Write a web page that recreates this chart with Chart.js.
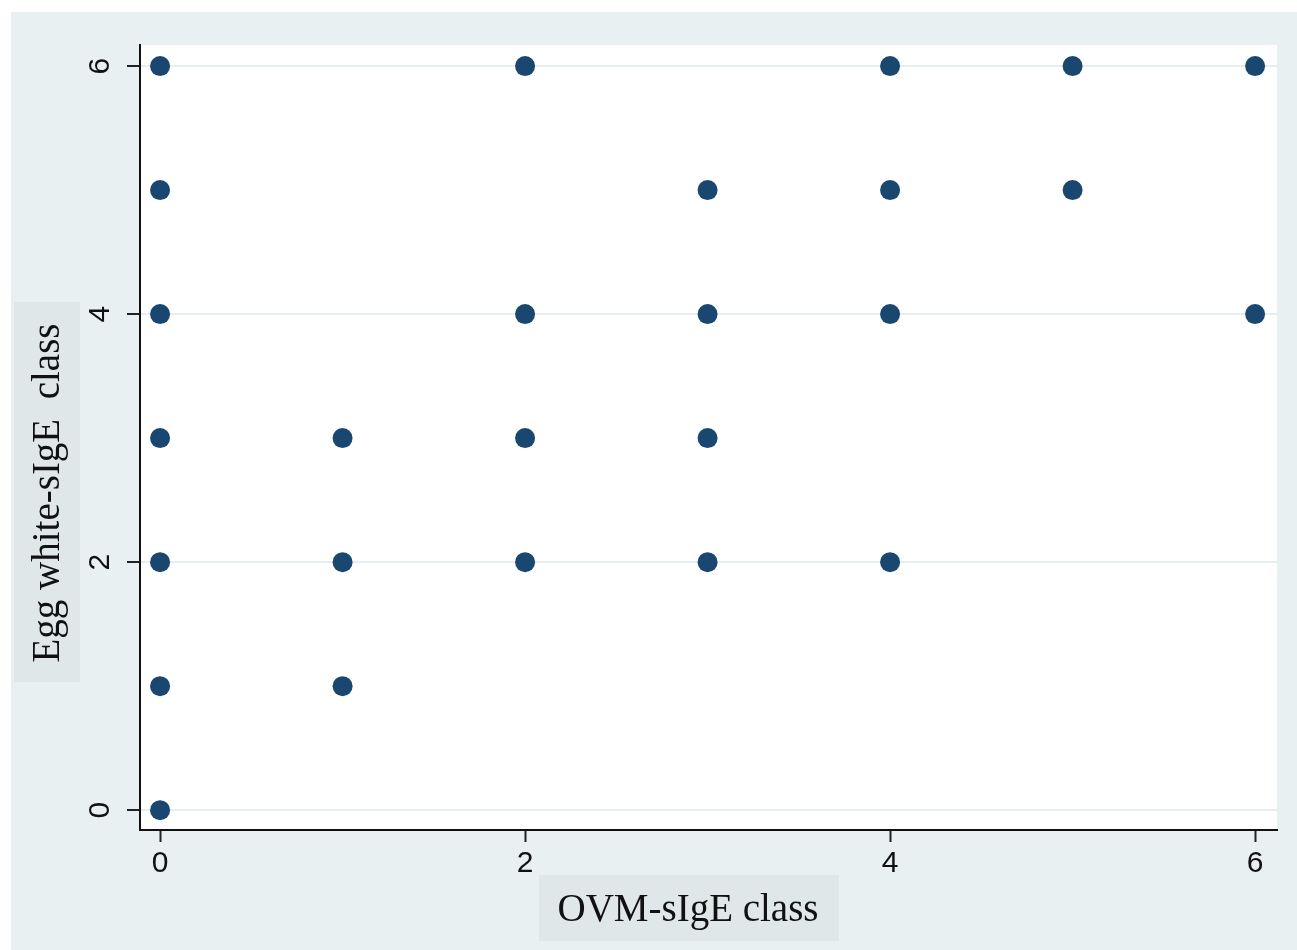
<!DOCTYPE html>
<html>
<head>
<meta charset="utf-8">
<title>OVM-sIgE vs Egg white-sIgE class</title>
<script src="https://cdn.jsdelivr.net/npm/chart.js@4.4.1/dist/chart.umd.min.js"></script>
<style>
  html, body { margin: 0; padding: 0; background: #ffffff; }
  #wrap { width: 1297px; height: 950px; position: relative; }
</style>
</head>
<body>
<div id="wrap"><canvas id="chart" width="1297" height="950"></canvas></div>
<script>
// Paired observations: OVM-sIgE class (x) and Egg white-sIgE class (y)
const ovmClass      = [0, 0, 0, 0, 0, 0, 0, 1, 1, 1, 2, 2, 2, 2, 3, 3, 3, 3, 4, 4, 4, 4, 5, 5, 6, 6];
const eggWhiteClass = [6, 5, 4, 3, 2, 1, 0, 3, 2, 1, 6, 4, 3, 2, 5, 4, 3, 2, 6, 5, 4, 2, 6, 5, 6, 4];

const xTicks = [0, 2, 4, 6];
const yTicks = [0, 2, 4, 6];

const xTitle = 'OVM-sIgE class';
const yTitle = 'Egg white-sIgE  class';

const PANEL = '#e8f0f2';
const TITLE_BOX = '#dfe7e9';
const MARKER = '#1a476f';
const GRID = '#e6eef1';

const points = ovmClass.map((x, i) => ({ x: x, y: eggWhiteClass[i] }));

// Outer light panel behind the plot region
const panelPlugin = {
  id: 'panel',
  beforeDraw(chart) {
    const ctx = chart.ctx;
    ctx.save();
    ctx.fillStyle = '#ffffff';
    ctx.fillRect(0, 0, chart.width, chart.height);
    ctx.fillStyle = PANEL;
    ctx.fillRect(11, 12, chart.width - 11, chart.height - 12);
    const a = chart.chartArea;
    ctx.fillStyle = '#ffffff';
    ctx.fillRect(a.left, a.top, a.right - a.left, a.bottom - a.top);
    ctx.restore();
  }
};

// Rotated y tick labels and boxed axis titles
const labelsPlugin = {
  id: 'axisLabels',
  afterDraw(chart) {
    const ctx = chart.ctx;
    const ys = chart.scales.y;
    ctx.save();
    ctx.fillStyle = '#111111';
    ctx.font = '30px "Liberation Sans", Arial, sans-serif';
    ctx.textAlign = 'center';
    ctx.textBaseline = 'middle';
    ys.ticks.forEach(t => {
      const py = ys.getPixelForValue(t.value);
      ctx.save();
      ctx.translate(101, py);
      ctx.rotate(-Math.PI / 2);
      ctx.fillText(String(t.value), 0, 0);
      ctx.restore();
    });

    // y axis title
    ctx.fillStyle = TITLE_BOX;
    ctx.fillRect(14, 302, 66, 380);
    ctx.fillStyle = '#111111';
    ctx.font = '39px "Liberation Serif", "Times New Roman", serif';
    ctx.save();
    ctx.translate(48, 493);
    ctx.rotate(-Math.PI / 2);
    ctx.fillText(yTitle, 0, 1);
    ctx.restore();

    // x axis title
    ctx.fillStyle = TITLE_BOX;
    ctx.fillRect(539, 875, 300, 66);
    ctx.fillStyle = '#111111';
    ctx.fillText(xTitle, 688, 911);
    ctx.restore();
  }
};

new Chart(document.getElementById('chart'), {
  type: 'scatter',
  data: {
    datasets: [{
      data: points,
      backgroundColor: MARKER,
      borderColor: MARKER,
      borderWidth: 0,
      pointRadius: 10,
      pointHoverRadius: 10
    }]
  },
  options: {
    responsive: false,
    animation: false,
    devicePixelRatio: 1,
    layout: { padding: { top: 45, right: 20, left: 0, bottom: 0 } },
    plugins: {
      legend: { display: false },
      tooltip: { enabled: false }
    },
    scales: {
      x: {
        type: 'linear',
        min: -0.11,
        max: 6.12,
        afterBuildTicks(scale) { scale.ticks = xTicks.map(v => ({ value: v })); },
        afterFit(scale) { scale.height = 120; },
        border: { display: true, color: '#111111', width: 2 },
        grid: {
          drawOnChartArea: false,
          drawTicks: true,
          tickLength: 12,
          tickColor: '#222222',
          tickWidth: 2
        },
        ticks: {
          color: '#111111',
          padding: 4,
          maxRotation: 0,
          font: { family: '"Liberation Sans", Arial, sans-serif', size: 30 }
        }
      },
      y: {
        type: 'linear',
        min: -0.16,
        max: 6.17,
        afterBuildTicks(scale) { scale.ticks = yTicks.map(v => ({ value: v })); },
        afterFit(scale) { scale.width = 140; },
        border: { display: true, color: '#111111', width: 2 },
        grid: {
          drawOnChartArea: true,
          color: GRID,
          lineWidth: 2,
          drawTicks: true,
          tickLength: 13,
          tickColor: '#222222',
          tickWidth: 2
        },
        ticks: { display: false }
      }
    }
  },
  plugins: [panelPlugin, labelsPlugin]
});
</script>
</body>
</html>
